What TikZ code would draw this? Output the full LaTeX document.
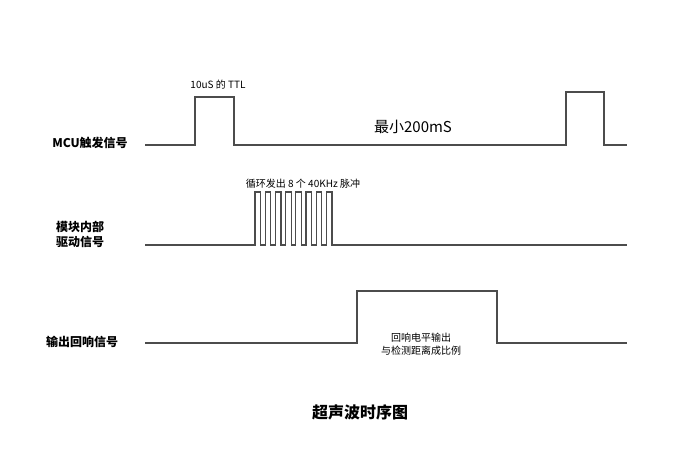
\documentclass[tikz,border=0pt]{standalone}
\usepackage{fontspec}
\setmainfont{Noto Sans CJK SC}
\begin{document}
\begin{tikzpicture}[x=1pt,y=-1pt,
    sig/.style={draw=black!70,line width=1.2pt},
    lab/.style={font=\bfseries\fontsize{12}{15}\selectfont,align=center},
    note/.style={font=\fontsize{10}{13}\selectfont,align=center}]
\useasboundingbox (0,0) rectangle (696,466);
% signal names
\node[lab](mcu) at (90,143){MCU触发信号};
\node[lab](drv) at (80,234){模块内部\\驱动信号};
\node[lab](echo) at (82,342){输出回响信号};
% trigger
\draw[sig] (145,145) -- (195,145) -- (195,97) -- (234,97) -- (234,145)
  -- (566,145) -- (566,92) -- (604,92) -- (604,145) -- (627,145);
\node[note](ttl) at (218,85){10uS 的 TTL};
\node[font=\fontsize{15}{17}\selectfont](gap) at (413,127){最小200mS};
% burst
\draw[sig] (145,245) -- (255,245)
  \foreach \i in {0,...,7}{ -- ++(0,-53) -- ++(5.5,0) -- ++(0,53) -- ++(4.7,0)}
  -- (627,245);
\node[note](burst) at (303,184){循环发出 8 个 40KHz 脉冲};
% echo
\draw[sig] (145,343) -- (357,343) -- (357,291) -- (497,291) -- (497,343) -- (627,343);
\node[note](width) at (421,344){回响电平输出\\与检测距离成比例};
\node[font=\bfseries\fontsize{16}{18}\selectfont](title) at (360,412){超声波时序图};
\end{tikzpicture}
\end{document}
